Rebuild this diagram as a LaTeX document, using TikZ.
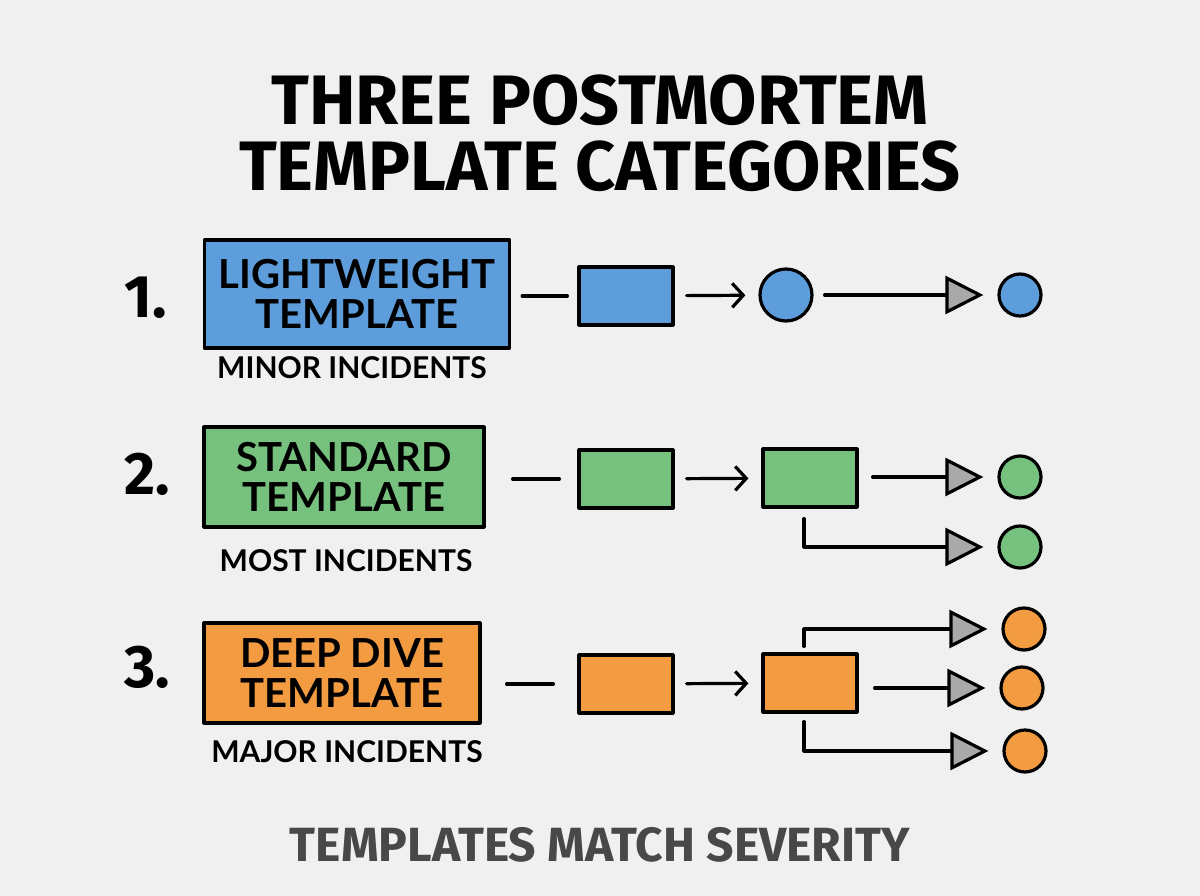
\documentclass[tikz,border=0pt]{standalone}
\usepackage{fontspec}
\setmainfont{Fira Sans}
\newfontfamily\labelfont{Lato}
\usetikzlibrary{arrows.meta,positioning}
\definecolor{bgpaper}{HTML}{F0F0F0}
\definecolor{sevblue}{HTML}{5E9DDC}
\definecolor{sevgreen}{HTML}{77C17F}
\definecolor{sevorange}{HTML}{F29B40}
\definecolor{tipgray}{HTML}{A9A9A9}
\definecolor{footgray}{HTML}{484848}
\begin{document}
\begin{tikzpicture}[
    x=1pt, y=-1pt,
    line width=3.2pt, line cap=round, line join=round,
    heading/.style={font=\fontsize{70}{66}\selectfont\bfseries, align=center},
    rank/.style={font=\fontsize{60}{60}\selectfont\bfseries},
    tplbox/.style={draw, inner sep=0pt, align=center,
      font=\labelfont\fontsize{40}{40}\selectfont\bfseries},
    audience/.style={font=\labelfont\fontsize{30}{30}\selectfont\bfseries},
    stage/.style={draw, minimum width=94pt, minimum height=58pt, inner sep=0pt},
    endpt/.style={draw, circle, inner sep=0pt, minimum size=42pt},
    hub/.style={endpt, minimum size=52pt},
    link/.style={shorten <=11pt, shorten >=10pt},
    feed/.style={-{Straight Barb[length=11pt,width=24pt]}, shorten <=12pt, shorten >=13pt},
    fork/.style={-{Triangle[length=38pt,width=38pt,fill=tipgray]}, shorten >=14pt},
  ]
% --- paper
\fill[bgpaper] (0,0) rectangle (1200,896);
\useasboundingbox (0,0) rectangle (1200,896);

% --- title
\node[heading] (title) at (600,133) {THREE POSTMORTEM\\TEMPLATE CATEGORIES};

% Row 1 -- lightweight
\node[rank] (n1) at (146,298) {1.};
\node[tplbox, fill=sevblue, minimum width=305pt, minimum height=108pt] (tplA) at (357,294) {LIGHTWEIGHT\\TEMPLATE};
\node[audience] (audA) at (352,368) {MINOR INCIDENTS};
\node[stage, fill=sevblue] (stA1) at (626,296) {};
\node[hub, fill=sevblue] (hubA) at (786,295) {};
\node[endpt, fill=sevblue] (endA) at (1020,295) {};
\draw[link] (tplA.east |- stA1) -- (stA1);
\draw[feed] (stA1) -- (hubA);
\draw[fork, shorten <=11pt] (hubA) -- (endA);

% Row 2 -- standard
\node[rank] (n2) at (147,474) {2.};
\node[tplbox, fill=sevgreen, minimum width=280pt, minimum height=100pt] (tplB) at (344,477) {STANDARD\\TEMPLATE};
\node[audience] (audB) at (346,561) {MOST INCIDENTS};
\node[stage, fill=sevgreen] (stB1) at (626,479) {};
\node[stage, fill=sevgreen] (stB2) at (810,478) {};
\node[endpt, fill=sevgreen] (endB1) at (1020,477) {};
\node[endpt, fill=sevgreen] (endB2) at (1020,547) {};
\draw[link, shorten <=27pt, shorten >=18pt] (tplB.east |- stB1) -- (stB1);
\draw[feed] (stB1) -- (stB2);
\draw[fork, shorten <=14pt] (stB2.east |- endB1) -- (endB1);
\draw[fork] ([shift={(-6,10)}]stB2.south) |- (endB2);

% Row 3 -- deep dive
\node[rank] (n3) at (147,667) {3.};
\node[tplbox, fill=sevorange, minimum width=276pt, minimum height=100pt] (tplC) at (342,673) {DEEP DIVE\\TEMPLATE};
\node[audience] (audC) at (347,752) {MAJOR INCIDENTS};
\node[stage, fill=sevorange] (stC1) at (626,684) {};
\node[stage, fill=sevorange] (stC2) at (810,683) {};
\node[endpt, fill=sevorange] (endC1) at (1024,629) {};
\node[endpt, fill=sevorange] (endC2) at (1022,688) {};
\node[endpt, fill=sevorange] (endC3) at (1025,751) {};
\draw[link, shorten <=25pt, shorten >=24pt] (tplC.east |- stC1) -- (stC1);
\draw[feed] (stC1) -- (stC2);
\draw[fork] ([shift={(-6,-6)}]stC2.north) |- (endC1);
\draw[fork, shorten <=16pt] (stC2.east |- endC2) -- (endC2);
\draw[fork] ([shift={(-6,8)}]stC2.south) |- (endC3);

% --- footer
\node[font=\fontsize{48}{48}\selectfont\bfseries, text=footgray] (footer) at (600,845) {TEMPLATES MATCH SEVERITY};
\end{tikzpicture}
\end{document}
